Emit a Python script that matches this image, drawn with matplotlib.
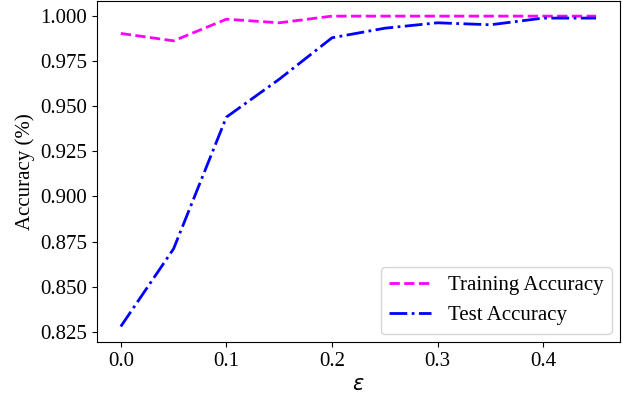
import numpy as np
import matplotlib.pyplot as plt

plt.rcParams['font.family'] = 'Liberation Serif'
plt.rcParams['mathtext.fontset'] = 'dejavusans'

# perturbation size
eps = [0.0, 0.05, 0.10, 0.15, 0.20, 0.25, 0.30, 0.35, 0.40, 0.45]

# accuracy on training / test sets
train_acc = [0.9904, 0.9863, 0.9983, 0.9963, 1.0, 1.0, 1.0, 1.0, 1.0, 1.0]
test_acc = [0.8279, 0.8710, 0.9440, 0.9650, 0.9880, 0.9933, 0.9963, 0.9952, 0.9989, 0.9989]

fig = plt.figure(figsize=(6.28, 4.0), dpi=100)
ax = fig.add_axes([0.1545, 0.145, 0.8325, 0.8535])

ax.plot(eps, train_acc, color='magenta', linestyle='--', linewidth=2, label='Training Accuracy')
ax.plot(eps, test_acc, color='blue', linestyle='-.', linewidth=2, label='Test Accuracy')

ax.set_yticks(np.arange(0.825, 1.0001, 0.025))
ax.set_xticks([0.0, 0.1, 0.2, 0.3, 0.4])
ax.tick_params(labelsize=15)
ax.set_xlabel(r'$\epsilon$', fontsize=15)
ax.set_ylabel('Accuracy (%)', fontsize=15)
ax.legend(loc='lower right', fontsize=15, borderaxespad=0.4)

fig.savefig('out.png', dpi=100)
